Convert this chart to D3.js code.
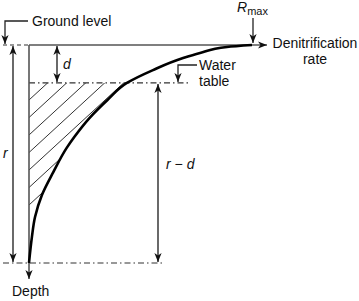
<!doctype html>
<html>
  <head>
    <script src="https://cdn.jsdelivr.net/npm/d3@7"></script>
    <style>
      body { margin: 0; background: #fff; }
      text { font-family: "Liberation Sans", Arial, sans-serif; font-size: 14px; fill: #111; }
    </style>
  </head>
  <body>
    <svg width="359" height="301"></svg>

    <script type="text/javascript">

        // curve: depth as % of r, rate as % of Rmax
        var depthPct = [0, 0.9, 3.7, 6.0, 11.5, 17.4, 25.2, 33.5, 42.2, 47.2, 58.3, 68.8, 78.9, 88.1, 100];
        var ratePct  = [100, 88.8, 76.7, 69.1, 55.6, 43.9, 35.2, 27.1, 20.3, 16.9, 10.9, 5.8, 2.7, 1.3, 0];
        var waterTablePct = 17.4;   // d, as % of r
        var hatchEndPct = 73.4;     // hatching stops here

        var groundLabel = "Ground level";
        var rateLabel = ["Denitrification", "rate"];
        var waterLabel = ["Water", "table"];
        var depthLabel = "Depth";

        var svg = d3.select("svg");

        var x = d3.scaleLinear().domain([0, 100]).range([29, 252]);
        var y = d3.scaleLinear().domain([0, 100]).range([45, 263]);

        var pts = depthPct.map((dp, i) => [ratePct[i], dp]);
        var yWater = y(waterTablePct),
            yHatchEnd = y(hatchEndPct);

        var defs = svg.append("defs");
        defs.append("marker")
            .attr("id", "arr")
            .attr("viewBox", "-9 -5 10 10")
            .attr("refX", 0).attr("refY", 0)
            .attr("markerUnits", "userSpaceOnUse")
            .attr("markerWidth", 10).attr("markerHeight", 10)
            .attr("orient", "auto-start-reverse")
          .append("path")
            .attr("d", "M0,0 L-9,-3.6 L-6.5,0 L-9,3.6 Z")
            .attr("fill", "#111");

        var line = d3.line()
            .x(d => x(d[0]))
            .y(d => y(d[1]))
            .curve(d3.curveMonotoneY);

        // area between depth axis and curve, used to clip the hatching
        var area = d3.area()
            .y(d => y(d[1]))
            .x0(x(0))
            .x1(d => x(d[0]))
            .curve(d3.curveMonotoneY);

        defs.append("clipPath").attr("id", "hclip")
          .append("path")
            .attr("d", area(pts));
        defs.append("clipPath").attr("id", "vclip")
          .append("rect")
            .attr("x", 0).attr("y", yWater)
            .attr("width", 359).attr("height", yHatchEnd - yWater + 1);

        var slope = 0.92, step = 17.5;
        svg.append("g").attr("clip-path", "url(#vclip)")
          .append("g").attr("clip-path", "url(#hclip)")
          .selectAll("line")
          .data(d3.range(0, 12).map(k => yHatchEnd - k * step))
          .join("line")
            .attr("x1", x(0))
            .attr("y1", d => d)
            .attr("x2", x(0) + 200)
            .attr("y2", d => d - 200 * slope)
            .attr("stroke", "#333")
            .attr("stroke-width", 1);

        // reference lines
        svg.append("line")
            .attr("x1", 3).attr("x2", x(0))
            .attr("y1", y(0)).attr("y2", y(0))
            .attr("stroke", "#333").attr("stroke-width", 1.2)
            .attr("stroke-dasharray", "4,3");
        svg.append("line")
            .attr("x1", x(0)).attr("x2", 190)
            .attr("y1", yWater).attr("y2", yWater)
            .attr("stroke", "#333").attr("stroke-width", 1.2)
            .attr("stroke-dasharray", "6,3,1.5,3");
        svg.append("line")
            .attr("x1", 3).attr("x2", 163)
            .attr("y1", y(100)).attr("y2", y(100))
            .attr("stroke", "#333").attr("stroke-width", 1.2)
            .attr("stroke-dasharray", "6,3,1.5,3");

        // axes
        svg.append("line")
            .attr("x1", x(0)).attr("y1", y(0))
            .attr("x2", 267).attr("y2", y(0))
            .attr("stroke", "#555").attr("stroke-width", 1.6)
            .attr("marker-end", "url(#arr)");
        svg.append("line")
            .attr("x1", x(0)).attr("y1", y(0))
            .attr("x2", x(0)).attr("y2", 279)
            .attr("stroke", "#555").attr("stroke-width", 1.6)
            .attr("marker-end", "url(#arr)");

        // the curve
        svg.append("path")
            .attr("d", line(pts))
            .attr("fill", "none")
            .attr("stroke", "#000")
            .attr("stroke-width", 2.6);

        // dimension arrows
        function dim(xx, y1, y2) {
            svg.append("line")
                .attr("x1", xx).attr("x2", xx)
                .attr("y1", y1 + 1).attr("y2", y2 - 1)
                .attr("stroke", "#444").attr("stroke-width", 1.6)
                .attr("marker-start", "url(#arr)")
                .attr("marker-end", "url(#arr)");
        }
        dim(13, y(0), y(100));
        dim(57, y(0), yWater);
        dim(158, yWater, y(100));

        // leaders
        function leader(p) {
            svg.append("path")
                .attr("d", d3.line()(p))
                .attr("fill", "none")
                .attr("stroke", "#222").attr("stroke-width", 1.3)
                .attr("marker-end", "url(#arr)");
        }
        leader([[28, 21], [5, 21], [5, y(0) - 1]]);
        leader([[x(100) + 1, 18], [x(100) + 1, y(0) - 2]]);
        leader([[197, 65], [178, 65], [178, yWater - 1]]);

        // labels
        svg.append("text").attr("x", 32).attr("y", 26).text(groundLabel);
        var rm = svg.append("text").attr("x", 237).attr("y", 12);
        rm.append("tspan").attr("font-style", "italic").text("R");
        rm.append("tspan").attr("dy", 3).style("font-size", "11px").text("max");

        svg.append("text").attr("x", 315).attr("y", 48)
            .attr("text-anchor", "middle").text(rateLabel[0]);
        svg.append("text").attr("x", 315).attr("y", 64)
            .attr("text-anchor", "middle").text(rateLabel[1]);
        svg.append("text").attr("x", 199).attr("y", 70).text(waterLabel[0]);
        svg.append("text").attr("x", 199).attr("y", 86).text(waterLabel[1]);

        svg.append("text").attr("x", 63).attr("y", 69)
            .attr("font-style", "italic").text("d");
        svg.append("text").attr("x", 3).attr("y", 158)
            .attr("font-style", "italic").text("r");
        var rd = svg.append("text").attr("x", 166).attr("y", 169);
        rd.append("tspan").attr("font-style", "italic").text("r");
        rd.append("tspan").text(" \u2212 ");
        rd.append("tspan").attr("font-style", "italic").text("d");

        svg.append("text").attr("x", 12).attr("y", 296).text(depthLabel);

    </script>
  </body>
</html>
